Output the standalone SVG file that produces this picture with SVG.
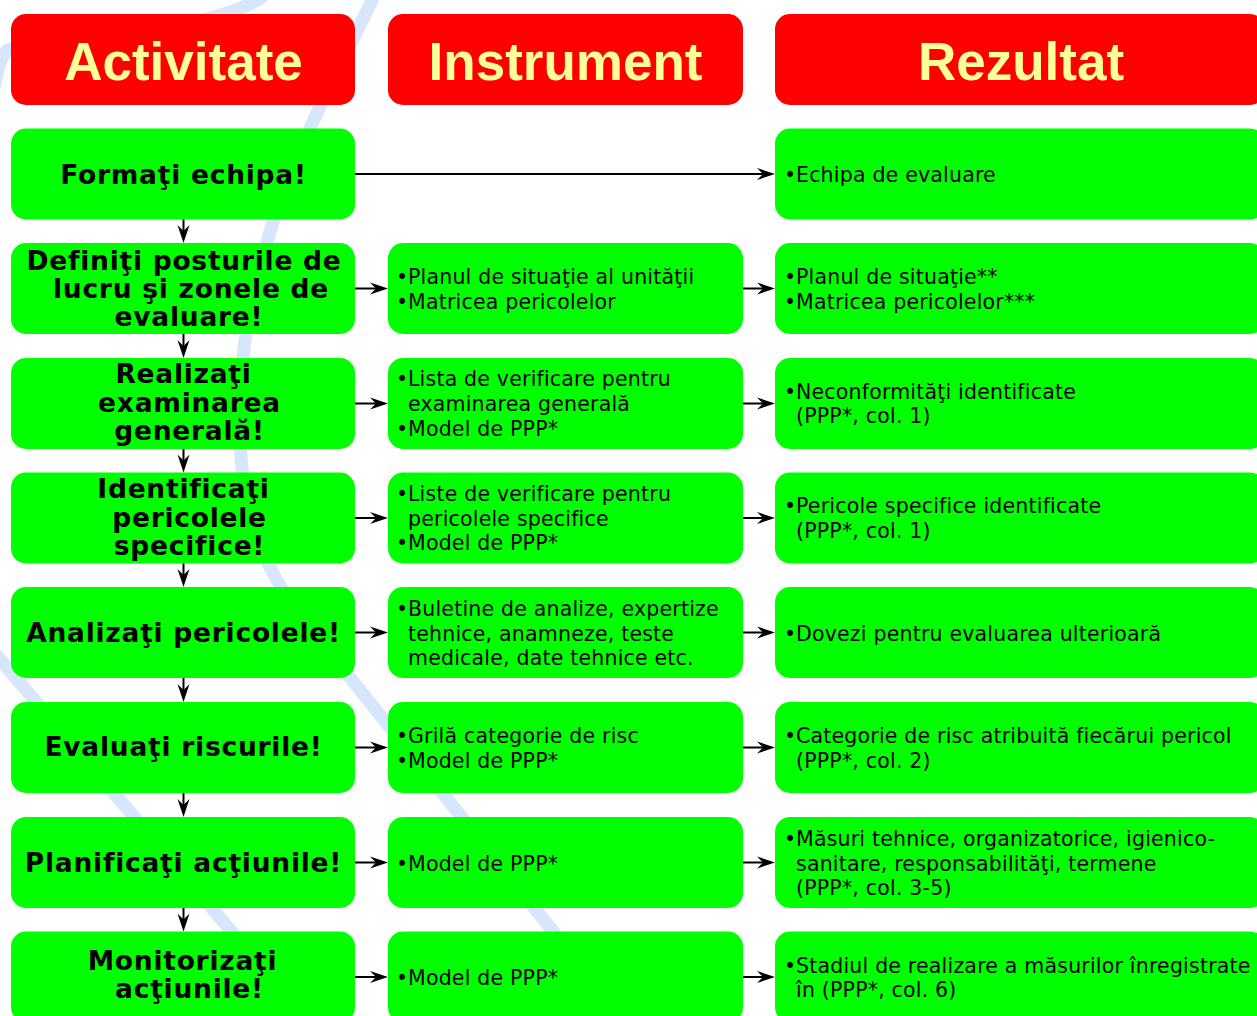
<svg xmlns="http://www.w3.org/2000/svg" width="1257" height="1016" viewBox="0 0 1257 1016">
<style>
.bg{fill:none;stroke:#d6e7fc;stroke-width:13}
.hdr{fill:#ff0000}
.box{fill:#00ff00}
.ht{font-family:"Liberation Sans",Arial,sans-serif;font-weight:bold;font-size:53px;fill:#ffff99;text-anchor:middle}
.at{font-family:"DejaVu Sans",Verdana,sans-serif;font-weight:bold;font-size:26.5px;fill:#000;text-anchor:middle;letter-spacing:0.75px}
.it{font-family:"DejaVu Sans",Verdana,sans-serif;font-size:20.5px;fill:#000;letter-spacing:0.2px}
.con{fill:none;stroke:#000;stroke-width:2;marker-end:url(#ah)}
</style>
<defs>
<marker id="ah" markerUnits="userSpaceOnUse" viewBox="-19 -7 20 14" markerWidth="20" markerHeight="14" refX="-5" refY="0" orient="auto">
<path d="M0,0 L-18,-6 L-12,0 L-18,6 Z" fill="#000"/>
</marker>
</defs>
<rect width="1257" height="1016" fill="#fff"/>
<g id="background">
<path class="bg" d="M268,-8 C230,30 60,40 8,50 C0,55 -5,80 -10,110"/>
<path class="bg" d="M374,-4 C330,90 245,230 240,400 C237,500 255,555 300,615 L600,990"/>
<path class="bg" d="M-25,630 L290,1000"/>
</g>
<g id="header-activitate"><rect class="hdr" x="11" y="14" width="344" height="91" rx="15"/><text class="ht" x="183.5" y="79.5">Activitate</text></g>
<g id="header-instrument"><rect class="hdr" x="388" y="14" width="355" height="91" rx="15"/><text class="ht" x="565.5" y="79.5">Instrument</text></g>
<g id="header-rezultat"><rect class="hdr" x="775" y="14" width="490" height="91" rx="15"/><text class="ht" x="1021" y="79.5">Rezultat</text></g>

<g id="a1"><rect class="box" x="11" y="128.5" width="344" height="91" rx="15"/><text class="at" x="183.5" y="184">Formaţi echipa!</text></g>
<g id="r1"><rect class="box" x="775" y="128.5" width="490" height="91" rx="15"/><text class="it" x="784" y="182">•</text><text class="it" x="796" y="182">Echipa de evaluare</text></g>

<g id="a2"><rect class="box" x="11" y="243" width="344" height="91" rx="15"/><text class="at"><tspan x="184" y="269.5">Definiţi posturile de</tspan><tspan x="191" y="297.5">lucru şi zonele de</tspan><tspan x="189" y="325.5">evaluare!</tspan></text></g>
<g id="i2"><rect class="box" x="388" y="243" width="355" height="91" rx="15"/><text class="it"><tspan x="396" y="284.2">•</tspan><tspan x="408" y="284.2">Planul de situaţie al unităţii</tspan><tspan x="396" y="308.9">•</tspan><tspan x="408" y="308.9">Matricea pericolelor</tspan></text></g>
<g id="r2"><rect class="box" x="775" y="243" width="490" height="91" rx="15"/><text class="it"><tspan x="784" y="284.2">•</tspan><tspan x="796" y="284.2">Planul de situaţie**</tspan><tspan x="784" y="308.9">•</tspan><tspan x="796" y="308.9">Matricea pericolelor***</tspan></text></g>

<g id="a3"><rect class="box" x="11" y="358" width="344" height="91" rx="15"/><text class="at"><tspan x="183.5" y="383.4">Realizaţi</tspan><tspan x="189.5" y="411.7">examinarea</tspan><tspan x="189.5" y="440">generală!</tspan></text></g>
<g id="i3"><rect class="box" x="388" y="358" width="355" height="91" rx="15"/><text class="it"><tspan x="396" y="386.3">•</tspan><tspan x="408" y="386.3">Lista de verificare pentru</tspan><tspan x="408" y="411">examinarea generală</tspan><tspan x="396" y="435.7">•</tspan><tspan x="408" y="435.7">Model de PPP*</tspan></text></g>
<g id="r3"><rect class="box" x="775" y="358" width="490" height="91" rx="15"/><text class="it"><tspan x="784" y="398.6">•</tspan><tspan x="796" y="398.6">Neconformităţi identificate</tspan><tspan x="796" y="423.3">(PPP*, col. 1)</tspan></text></g>

<g id="a4"><rect class="box" x="11" y="472.5" width="344" height="91" rx="15"/><text class="at"><tspan x="183.5" y="498.3">Identificaţi</tspan><tspan x="189.5" y="526.7">pericolele</tspan><tspan x="189.5" y="555">specifice!</tspan></text></g>
<g id="i4"><rect class="box" x="388" y="472.5" width="355" height="91" rx="15"/><text class="it"><tspan x="396" y="500.8">•</tspan><tspan x="408" y="500.8">Liste de verificare pentru</tspan><tspan x="408" y="525.5">pericolele specifice</tspan><tspan x="396" y="550.2">•</tspan><tspan x="408" y="550.2">Model de PPP*</tspan></text></g>
<g id="r4"><rect class="box" x="775" y="472.5" width="490" height="91" rx="15"/><text class="it"><tspan x="784" y="513.1">•</tspan><tspan x="796" y="513.1">Pericole specifice identificate</tspan><tspan x="796" y="537.8">(PPP*, col. 1)</tspan></text></g>

<g id="a5"><rect class="box" x="11" y="587" width="344" height="91" rx="15"/><text class="at" x="183.5" y="641.7">Analizaţi pericolele!</text></g>
<g id="i5"><rect class="box" x="388" y="587" width="355" height="91" rx="15"/><text class="it"><tspan x="396" y="615.8">•</tspan><tspan x="408" y="615.8">Buletine de analize, expertize</tspan><tspan x="408" y="640.5">tehnice, anamneze, teste</tspan><tspan x="408" y="665.2">medicale, date tehnice etc.</tspan></text></g>
<g id="r5"><rect class="box" x="775" y="587" width="490" height="91" rx="15"/><text class="it"><tspan x="784" y="640.5">•</tspan><tspan x="796" y="640.5">Dovezi pentru evaluarea ulterioară</tspan></text></g>

<g id="a6"><rect class="box" x="11" y="702" width="344" height="91" rx="15"/><text class="at" x="183.5" y="756">Evaluaţi riscurile!</text></g>
<g id="i6"><rect class="box" x="388" y="702" width="355" height="91" rx="15"/><text class="it"><tspan x="396" y="743.2">•</tspan><tspan x="408" y="743.2">Grilă categorie de risc</tspan><tspan x="396" y="767.9">•</tspan><tspan x="408" y="767.9">Model de PPP*</tspan></text></g>
<g id="r6"><rect class="box" x="775" y="702" width="490" height="91" rx="15"/><text class="it"><tspan x="784" y="743.2">•</tspan><tspan x="796" y="743.2">Categorie de risc atribuită fiecărui pericol</tspan><tspan x="796" y="767.9">(PPP*, col. 2)</tspan></text></g>

<g id="a7"><rect class="box" x="11" y="817" width="344" height="91" rx="15"/><text class="at" x="183.5" y="871.7">Planificaţi acţiunile!</text></g>
<g id="i7"><rect class="box" x="388" y="817" width="355" height="91" rx="15"/><text class="it"><tspan x="396" y="870.5">•</tspan><tspan x="408" y="870.5">Model de PPP*</tspan></text></g>
<g id="r7"><rect class="box" x="775" y="817" width="490" height="91" rx="15"/><text class="it"><tspan x="784" y="845.8">•</tspan><tspan x="796" y="845.8">Măsuri tehnice, organizatorice, igienico-</tspan><tspan x="796" y="870.5">sanitare, responsabilităţi, termene</tspan><tspan x="796" y="895.2">(PPP*, col. 3-5)</tspan></text></g>

<g id="a8"><rect class="box" x="11" y="931.5" width="344" height="91" rx="15"/><text class="at"><tspan x="182.5" y="970">Monitorizaţi</tspan><tspan x="189.5" y="998.3">acţiunile!</tspan></text></g>
<g id="i8"><rect class="box" x="388" y="931.5" width="355" height="91" rx="15"/><text class="it"><tspan x="396" y="985">•</tspan><tspan x="408" y="985">Model de PPP*</tspan></text></g>
<g id="r8"><rect class="box" x="775" y="931.5" width="490" height="91" rx="15"/><text class="it"><tspan x="784" y="972.6">•</tspan><tspan x="796" y="972.6">Stadiul de realizare a măsurilor înregistrate</tspan><tspan x="796" y="997.3">în (PPP*, col. 6)</tspan></text></g>

<g id="connectors">
<path class="con" d="M355,174 L770,174"/>
<path class="con" d="M355,288.5 L383,288.5"/><path class="con" d="M743,288.5 L770,288.5"/>
<path class="con" d="M355,403.5 L383,403.5"/><path class="con" d="M743,403.5 L770,403.5"/>
<path class="con" d="M355,518 L383,518"/><path class="con" d="M743,518 L770,518"/>
<path class="con" d="M355,632.5 L383,632.5"/><path class="con" d="M743,632.5 L770,632.5"/>
<path class="con" d="M355,747.5 L383,747.5"/><path class="con" d="M743,747.5 L770,747.5"/>
<path class="con" d="M355,862.5 L383,862.5"/><path class="con" d="M743,862.5 L770,862.5"/>
<path class="con" d="M355,977 L383,977"/><path class="con" d="M743,977 L770,977"/>
<path class="con" d="M183.5,219.5 L183.5,238"/>
<path class="con" d="M183.5,334 L183.5,353"/>
<path class="con" d="M183.5,449 L183.5,467.5"/>
<path class="con" d="M183.5,563.5 L183.5,582"/>
<path class="con" d="M183.5,678 L183.5,697"/>
<path class="con" d="M183.5,793 L183.5,812"/>
<path class="con" d="M183.5,908 L183.5,926.5"/>
</g>
</svg>
